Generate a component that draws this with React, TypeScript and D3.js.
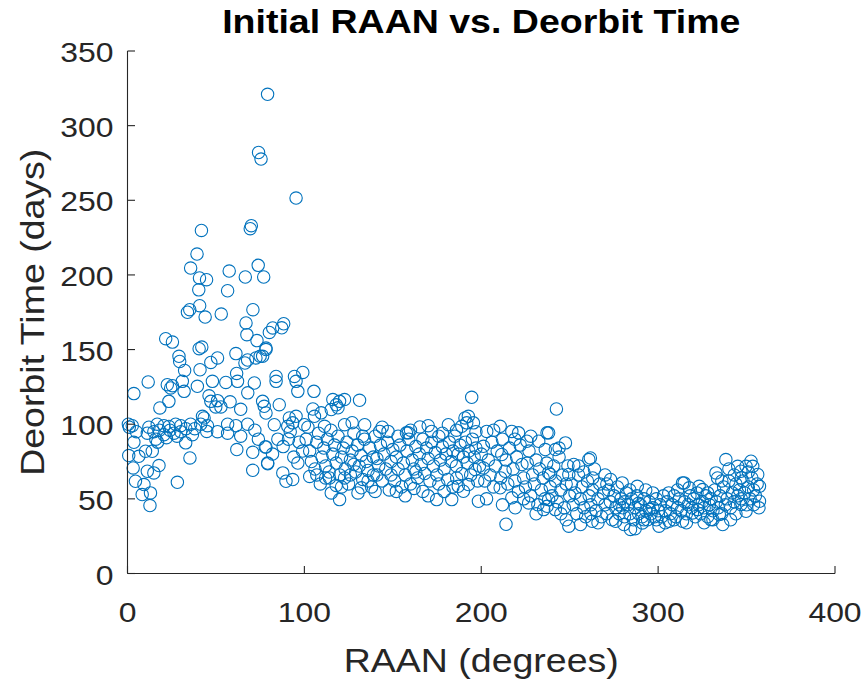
import React from "react";
import * as d3 from "d3";

type Pt = [number, number];

const title = "Initial RAAN vs. Deorbit Time";
const xLabel = "RAAN (degrees)";
const yLabel = "Deorbit Time (days)";
const xTicks = [0, 100, 200, 300, 400];
const yTicks = [0, 50, 100, 150, 200, 250, 300, 350];

// RAAN 0-50
const seg0to50: Pt[] = [
  [1, 98], [0.7, 79], [3.6, 120.5], [2.7, 99], [3.6, 87.9], [6.4, 78.5], [3.2, 70.7], [4.5, 61.8],
  [9.3, 59.6], [8.3, 52.9], [13, 54], [12.7, 45.5], [10.2, 81.9], [14, 81.9], [11.2, 68.5], [14.9, 67.4],
  [17.8, 72.3], [11.7, 128.3], [12.1, 98], [16.8, 100], [20.6, 99], [23.4, 98.5], [27.2, 100], [30.1, 99],
  [35.7, 100], [41.4, 100], [45.2, 99], [11.2, 94], [14.9, 95], [20.6, 93], [26.3, 94], [30.1, 95],
  [21.6, 157.3], [25.4, 155], [29.1, 145.5], [29.5, 142], [32.3, 136], [41, 136.5], [47.1, 141.4], [50.9, 144.4],
  [22.5, 126.5], [24.4, 124.3], [25.4, 125.8], [31, 128.7], [32, 122], [39.5, 125.4], [48, 128.7], [23.4, 115.3],
  [18.3, 110.9], [46.1, 119], [47.1, 115.3], [42.4, 105.3], [43.3, 104.2], [28.2, 61.1], [35.3, 77.4], [32.9, 87.5],
  [36.7, 93], [44.8, 95.2], [40.5, 150.6], [42, 151.7], [41.8, 229.8], [39.3, 214], [35.7, 204.6], [40.7, 198],
  [44.7, 196.8], [40.3, 190], [40.8, 179.4], [33.9, 175], [35.2, 176.7], [43.9, 171.8], [49.9, 111.6], [50.9, 115.8],
  [5, 95], [18, 96], [24, 96], [33, 97], [38, 97], [0.5, 100], [16, 90], [22, 91], [28, 92], [17, 88],
];

// RAAN 50-100
const seg50to100: Pt[] = [
  [52.8, 111.6], [53, 173.8], [56.6, 189.4], [57.5, 202.6], [61.3, 147.3], [61.7, 134], [62.2, 128.7], [55.6, 128],
  [56.6, 100], [61.3, 99], [67.9, 100], [50.9, 95], [56.6, 94], [61.8, 83], [70.8, 81.2], [77.9, 84.8],
  [70.8, 69.1], [79.3, 73.6], [66.4, 141], [67.9, 143], [72.6, 144.4], [75, 145.5], [78.3, 150], [67, 167.8],
  [67.5, 160], [73.2, 156], [80.2, 161.5], [66.6, 198.6], [73.9, 206.4], [77, 198.6], [70, 233], [69.4, 231],
  [70.9, 176.7], [74.1, 282], [75.5, 277.6], [79.2, 321], [95.3, 251.5], [88.3, 167.3], [87.2, 164.6], [82.1, 164.5],
  [71.7, 127.6], [76.4, 115.3], [77.3, 112], [78.3, 107.5], [78.3, 151], [76.4, 145.5], [84, 132], [84, 128.7],
  [94.4, 132], [95.3, 128.7], [99.1, 134.7], [96.3, 122], [85.8, 113.1], [91.5, 104.2], [93.4, 100.9], [90.6, 98.6],
  [95.3, 105.3], [83, 99.7], [78.3, 84.8], [79.2, 74], [87.8, 67.4], [89.6, 61.8], [93.4, 62.9], [96.3, 74],
  [100, 99.7], [85, 90], [88, 85], [92, 95], [97, 88], [99, 82], [82, 80], [94, 78], [91, 90],
  [58, 115], [64, 110], [68, 121], [64, 92], [72, 96], [74, 90],
];

// RAAN 100-150
const seg100to150: Pt[] = [
  [105.4, 122], [104.8, 110.2], [109.5, 107.6], [116.1, 116.5], [118, 113], [119.9, 115.3], [122.7, 116.5], [119, 111],
  [115.2, 109.8], [131.2, 116], [111.4, 98.6], [122.7, 99.7], [134.1, 99.7], [105.7, 105.3], [142.6, 95.2], [147.3, 95.2],
  [114.2, 64], [115.2, 54], [119.9, 49.5], [122.7, 64], [130.3, 54], [132.2, 57.4],
  [101, 90], [103, 82], [104, 75], [106, 70], [107, 88], [108, 94], [110, 78], [111, 84], [112, 72], [113, 90],
  [114, 68], [116, 80], [117, 86], [118, 74], [119, 92], [120, 66], [121, 78], [122, 84], [123, 70], [124, 88],
  [125, 60], [126, 76], [127, 82], [128, 94], [129, 68], [130, 86], [131, 72], [132, 79], [133, 63], [134, 90],
  [135, 75], [136, 69], [137, 84], [138, 58], [139, 78], [140, 92], [141, 66], [142, 72], [143, 86], [144, 62],
  [145, 80], [146, 70], [147, 88], [148, 56], [149, 75], [150, 83],
  [102, 98], [109, 60], [115, 96], [121, 58], [127, 101], [133, 92], [139, 66], [144, 98], [126, 66], [136, 62],
  [112, 64], [140, 55], [118, 59], [107, 66], [128, 73], [141, 77], [149, 66], [103, 65],
];

// RAAN 150-200
const seg150to200: Pt[] = [
  [158.7, 94.2], [165.3, 98.2], [171.9, 95.2], [181.4, 99.7], [190.8, 104.2], [192.7, 105.3], [191.8, 100.9], [195.6, 100.9],
  [189, 98.6], [194.6, 118], [157.7, 94.2], [174.8, 49.5], [183.3, 49.5], [198.4, 48.4], [187, 58.4], [189.9, 55.1],
  [192.7, 59.6], [186.1, 64], [196.5, 69.6],
  [151, 62], [152, 78], [153, 70], [154, 86], [155, 58], [156, 74], [157, 66], [158, 82], [159, 90], [160, 60],
  [161, 76], [162, 70], [163, 85], [164, 64], [165, 80], [166, 73], [167, 90], [168, 67], [169, 84], [170, 77],
  [171, 62], [172, 88], [173, 72], [174, 81], [175, 66], [176, 92], [177, 76], [178, 85], [179, 70], [180, 80],
  [181, 63], [182, 88], [183, 75], [184, 82], [185, 92], [186, 72], [187, 80], [188, 86], [189, 67], [190, 78],
  [191, 88], [192, 74], [193, 82], [194, 66], [195, 90], [196, 78], [197, 84], [198, 62], [199, 72], [200, 80],
  [152, 55], [157, 52], [162, 57], [167, 55], [170, 52], [179, 55], [184, 58], [160, 96], [170, 99], [178, 94],
  [186, 96], [153, 92], [163, 68], [176, 60], [197, 95],
];

// RAAN 200-250
const seg200to250: Pt[] = [
  [201.2, 85.2], [211.6, 79.7], [213.5, 68.5], [223, 73], [238.1, 67.4], [201.2, 70.7], [210.7, 57.4], [217.3, 50.7],
  [219.2, 44], [226.8, 47.3], [235.3, 42.8], [238.1, 49.5], [214, 33], [203.1, 95.2], [210.7, 98.6],
  [217.3, 95.2], [221.1, 94.2], [225.8, 88.6], [232.5, 88.6], [237.2, 94.2], [242.5, 110.2], [238.1, 94.2],
  [247.6, 87.5], [241.9, 83], [236.2, 83], [239, 66.3], [249.5, 66.3], [241.9, 42.8], [237.2, 45], [249.5, 31.7],
  [202, 62], [204, 76], [205, 66], [206, 88], [207, 58], [208, 72], [209, 82], [211, 64], [212, 90], [214, 76],
  [215, 60], [216, 84], [218, 70], [219, 62], [220, 78], [221, 55], [222, 86], [224, 64], [225, 58], [226, 74],
  [227, 82], [228, 52], [229, 66], [230, 60], [231, 76], [232, 46], [233, 70], [234, 56], [235, 64], [236, 50],
  [237, 74], [239, 58], [240, 52], [241, 72], [242, 62], [243, 48], [244, 78], [245, 56], [246, 66], [247, 44],
  [248, 60], [249, 72], [250, 52], [203, 50], [212, 46], [224, 50], [231, 40], [245, 40], [248, 36], [244, 84],
  [228, 92], [219, 90], [207, 96],
];

// RAAN 250-300
const seg250to300: Pt[] = [
  [252.3, 73], [260.8, 76.3], [261.7, 77.4], [256.1, 32.8], [262.7, 35], [273.1, 63], [279.7, 60.7], [288.2, 58.4],
  [284.4, 29.5], [280.7, 32.8], [291.1, 33.9],
  [251, 60], [252, 46], [253, 54], [254, 40], [255, 66], [256, 50], [257, 58], [258, 44], [259, 38], [260, 62],
  [261, 52], [262, 46], [263, 56], [264, 70], [265, 42], [266, 50], [267, 60], [268, 38], [269, 54], [270, 46],
  [271, 40], [272, 56], [273, 48], [274, 36], [275, 52], [276, 44], [277, 58], [278, 40], [279, 50], [280, 44],
  [281, 38], [282, 54], [283, 46], [284, 40], [285, 50], [286, 36], [287, 44], [288, 52], [289, 40], [290, 46],
  [291, 38], [292, 50], [293, 42], [294, 36], [295, 48], [296, 40], [297, 44], [298, 38], [299, 50], [300, 42],
  [255, 72], [263, 64], [270, 66], [266, 34], [276, 35], [287, 30], [293, 56], [297, 54], [284, 56], [271, 60],
  [258, 68], [262, 40], [281, 48], [289, 47], [295, 43], [299, 36], [292, 36], [278, 46],
];

// RAAN 300-360
const seg300to360: Pt[] = [
  [300.5, 31.7], [306.2, 35], [313.8, 35], [313.8, 60.7], [317.6, 57.4], [338.3, 76.3], [352.5, 75.2], [353.5, 71.8],
  [356.3, 66.3], [357.3, 58.4], [357.3, 48.4], [332.7, 67.4], [333.6, 64], [346.8, 68.5], [349.7, 71.8], [345, 71.8],
  [314.7, 60.7], [323.2, 58.4], [325.1, 56.2], [329.8, 36.1], [336.5, 32.8], [334.6, 39.5], [349.7, 41.7], [346.8, 46.2],
  [319.4, 40.6], [322.3, 42.8],
  [301, 46], [302, 38], [303, 52], [304, 42], [305, 48], [306, 54], [307, 40], [308, 46], [309, 52], [310, 38],
  [311, 44], [312, 50], [313, 42], [315, 48], [316, 40], [317, 46], [318, 52], [319, 44], [320, 50], [321, 38],
  [322, 54], [323, 46], [324, 40], [325, 48], [326, 44], [327, 52], [328, 38], [329, 46], [330, 50], [331, 42],
  [332, 56], [333, 48], [334, 44], [335, 52], [336, 40], [337, 58], [338, 46], [339, 50], [340, 62], [341, 44],
  [342, 54], [343, 48], [344, 60], [345, 52], [346, 56], [347, 50], [348, 62], [349, 54], [350, 46], [351, 58],
  [352, 50], [353, 64], [354, 56], [355, 52], [356, 60], [343, 66], [340, 70], [336, 62], [328, 54], [311, 56],
  [304, 34], [309, 36], [316, 34], [326, 34], [331, 36], [341, 36], [344, 40], [354, 46], [357, 44], [351, 68],
  [347, 64],
];

const allPoints: Pt[] = [
  ...seg0to50, ...seg50to100, ...seg100to150, ...seg150to200,
  ...seg200to250, ...seg250to300, ...seg300to360,
];

const W = 864;
const H = 680;
const left = 127.5;
const right = 835;
const top = 51;
const bottom = 573.5;
const axisColor = "#262626";
const markerColor = "#0072BD";
const font = "'Liberation Sans', Arial, Helvetica, sans-serif";
const SX = 1.12;

export default function App() {
  const x = d3.scaleLinear().domain([0, 400]).range([left, right]);
  const y = d3.scaleLinear().domain([0, 350]).range([bottom, top]);

  return (
    <svg
      width={W}
      height={H}
      viewBox={`0 0 ${W} ${H}`}
      style={{ position: "absolute", left: 0, top: 0, background: "#fff" }}
    >
      <rect x={0} y={0} width={W} height={H} fill="#fff" />
      <g>
        {allPoints.map((p, i) => (
          <circle
            key={i}
            cx={x(p[0])}
            cy={y(p[1])}
            r={6.2}
            fill="none"
            stroke={markerColor}
            strokeWidth={1.1}
          />
        ))}
      </g>
      <line x1={left} y1={top} x2={left} y2={bottom} stroke={axisColor} strokeWidth={1.1} />
      <line x1={left} y1={bottom} x2={right} y2={bottom} stroke={axisColor} strokeWidth={1.1} />
      {xTicks.map((t) => (
        <g key={"xt" + t}>
          <line x1={x(t)} y1={bottom} x2={x(t)} y2={bottom - 7.5} stroke={axisColor} strokeWidth={1.1} />
          <text
            transform={`translate(${x(t)},${bottom + 48}) scale(${SX},1)`}
            textAnchor="middle"
            fontFamily={font}
            fontSize={28.5}
            fill={axisColor}
          >
            {t}
          </text>
        </g>
      ))}
      {yTicks.map((t) => (
        <g key={"yt" + t}>
          <line x1={left} y1={y(t)} x2={left + 7.5} y2={y(t)} stroke={axisColor} strokeWidth={1.1} />
          <text
            transform={`translate(${left - 14},${y(t) + 11}) scale(${SX},1)`}
            textAnchor="end"
            fontFamily={font}
            fontSize={28.5}
            fill={axisColor}
          >
            {t}
          </text>
        </g>
      ))}
      <text
        transform={`translate(${(left + right) / 2},672) scale(${SX},1)`}
        textAnchor="middle"
        fontFamily={font}
        fontSize={33.5}
        fill={axisColor}
      >
        {xLabel}
      </text>
      <text
        transform={`translate(44,${(top + bottom) / 2}) rotate(-90) scale(${SX},1)`}
        textAnchor="middle"
        fontFamily={font}
        fontSize={33.5}
        fill={axisColor}
      >
        {yLabel}
      </text>
      <text
        transform={`translate(${(left + right) / 2},33) scale(${SX},1)`}
        textAnchor="middle"
        fontFamily={font}
        fontSize={33.5}
        fontWeight="bold"
        fill="#000"
      >
        {title}
      </text>
    </svg>
  );
}
